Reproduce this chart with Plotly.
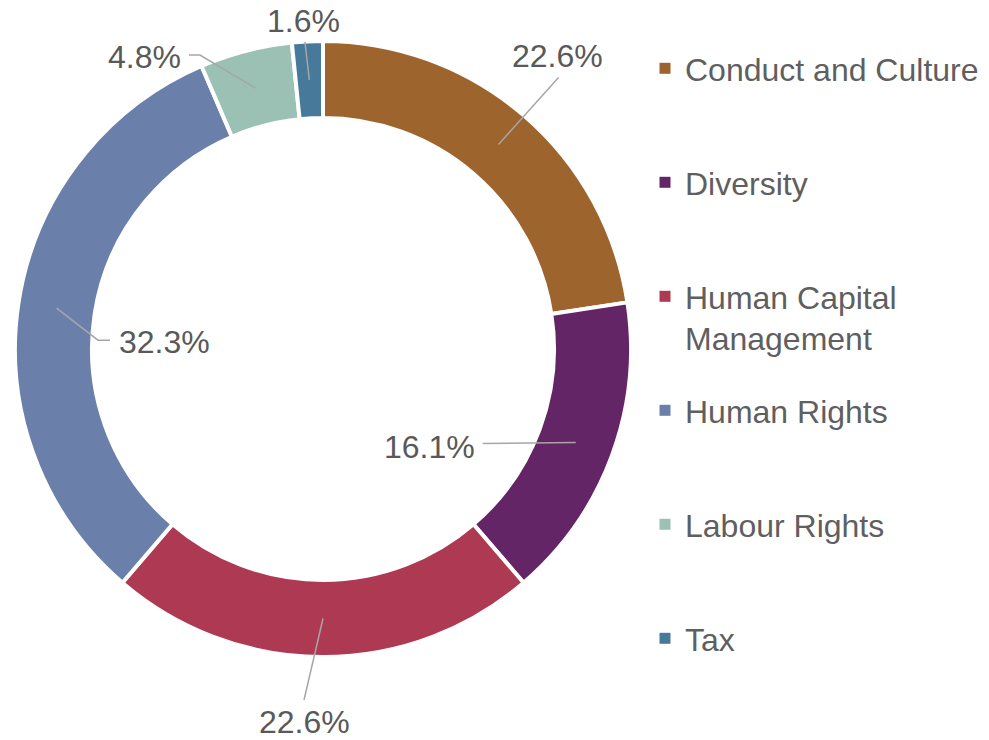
import math
import plotly.graph_objects as go

# ---------------- data ----------------
categories = ["Conduct and Culture", "Diversity", "Human Capital Management",
              "Human Rights", "Labour Rights", "Tax"]
legend_text = ["Conduct and Culture", "Diversity", "Human Capital<br>Management",
               "Human Rights", "Labour Rights", "Tax"]
counts = [14, 10, 14, 20, 3, 1]
colors = ["#9E642E", "#642566", "#AE3952", "#6A80AA", "#9BC1B5", "#477A9A"]

# ---------------- layout constants (pixels, page coordinates) ----------------
W, H = 989, 740
OFF = 8                    # default page body margin
CX, CY = 323, 349          # donut centre
R_OUT, R_IN = 308, 231     # radii incl. white separator stroke
SEP = 4
FONT = "Liberation Sans, Arial, sans-serif"
FS = 32
LABEL_COLOR = "#595959"
LEADER_COLOR = "#A6A6A6"

# callout geometry relative to each slice's mid-ring anchor
callouts = [
    dict(pts=[(60, -67)], text=(59, -89), xa="center"),
    dict(pts=[(-93, 1)], text=(-99, 4), xa="right"),
    dict(pts=[(-19, 81.5)], text=(-19, 103.5), xa="center"),
    dict(pts=[(41.4, 32), (53.4, 32)], text=(60, 34), xa="left"),
    dict(pts=[(-55.5, -33), (-66.5, -33)], text=(-72, -31), xa="right"),
    dict(pts=[(-4.4, -38)], text=(-5.4, -59), xa="center"),
]


def px(x):
    return (x - OFF) / W


def py(y):
    return 1 - (y - OFF) / H


total = sum(counts)
pct_text = [f"{100 * c / total:.1f}%" for c in counts]

fig = go.Figure()
fig.add_trace(go.Pie(
    labels=categories, values=counts, sort=False, direction="clockwise",
    rotation=0, hole=R_IN / R_OUT,
    marker=dict(colors=colors, line=dict(color="white", width=SEP)),
    textinfo="none", hoverinfo="label+percent", showlegend=False,
    domain=dict(x=[px(CX - R_OUT), px(CX + R_OUT)],
                y=[py(CY + R_OUT), py(CY - R_OUT)]),
))

# legend entries (one group per category for even spacing)
for i, (name, col) in enumerate(zip(legend_text, colors)):
    label = name if "<br>" in name else name + "<br> "
    fig.add_trace(go.Scatter(
        x=[None], y=[None], mode="markers", name=label,
        marker=dict(symbol="square", size=11, color=col),
        legendgroup=f"g{i}", showlegend=True, hoverinfo="skip",
    ))

# data labels with leader lines
shapes, annotations = [], []
cum = 0
r_mid = (R_OUT - SEP / 2 + R_IN + SEP / 2) / 2
for c, t, co in zip(counts, pct_text, callouts):
    mid = (cum + c / 2) / total * 2 * math.pi
    cum += c
    ax = CX + r_mid * math.sin(mid)
    ay = CY - r_mid * math.cos(mid)
    path = f"M{px(ax)},{py(ay)}"
    for dx, dy in co["pts"]:
        path += f" L{px(ax + dx)},{py(ay + dy)}"
    shapes.append(dict(type="path", path=path, xref="paper", yref="paper",
                       line=dict(color=LEADER_COLOR, width=1.5)))
    tx, ty = co["text"]
    annotations.append(dict(x=px(ax + tx), y=py(ay + ty), xref="paper", yref="paper",
                            text=t, showarrow=False, xanchor=co["xa"], yanchor="middle",
                            font=dict(family=FONT, size=FS, color=LABEL_COLOR)))

fig.update_layout(
    width=W, height=H, autosize=False,
    margin=dict(l=0, r=0, t=0, b=0),
    paper_bgcolor="white", plot_bgcolor="white",
    xaxis=dict(visible=False), yaxis=dict(visible=False),
    shapes=shapes, annotations=annotations,
    showlegend=True,
    legend=dict(x=px(645), y=py(41), xanchor="left", yanchor="top",
                font=dict(family=FONT, size=FS, color="#5F5F5F"),
                tracegroupgap=27.8, valign="top", traceorder="grouped",
                bgcolor="rgba(0,0,0,0)", itemclick=False, itemdoubleclick=False),
)

fig.write_html("out.html")
